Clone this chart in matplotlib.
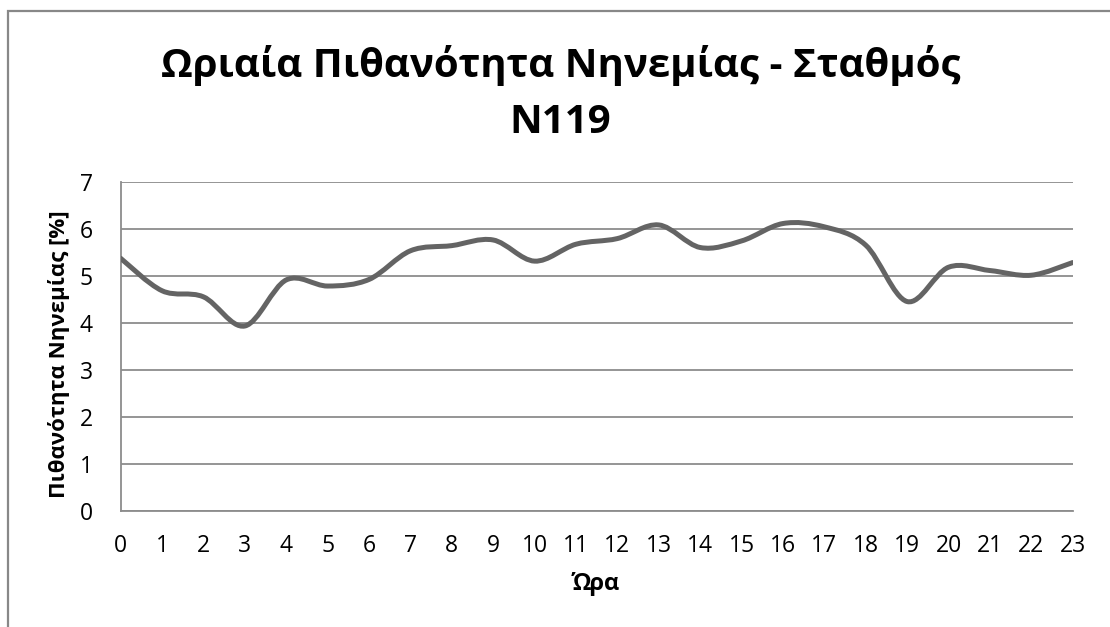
import matplotlib.pyplot as plt
from matplotlib.path import Path
from matplotlib.patches import PathPatch, Rectangle

plt.rcParams['font.family'] = ['Open Sans', 'DejaVu Sans']

hours = list(range(24))
prob = [5.37, 4.68, 4.55, 3.93, 4.91, 4.78, 4.92, 5.53, 5.64, 5.76, 5.31, 5.67,
        5.79, 6.08, 5.60, 5.74, 6.11, 6.04, 5.65, 4.45, 5.18, 5.11, 5.01, 5.28]
yticks = [0, 1, 2, 3, 4, 5, 6, 7]

title = 'Ωριαία Πιθανότητα Νηνεμίας - Σταθμός\nN119'
xlabel = 'Ώρα'
ylabel = 'Πιθανότητα Νηνεμίας [%]'

fig = plt.figure(figsize=(11.1, 6.27), dpi=100)
ax = fig.add_axes([0.1087, 0.1855, 0.8577, 0.5247])

# smoothed line like Excel (Catmull-Rom as cubic Bezier)
pts = list(zip(hours, prob))
verts = [pts[0]]
codes = [Path.MOVETO]
n = len(pts)
for i in range(n - 1):
    p0 = pts[max(i - 1, 0)]
    p1 = pts[i]
    p2 = pts[i + 1]
    p3 = pts[min(i + 2, n - 1)]
    c1 = (p1[0] + (p2[0] - p0[0]) / 6, p1[1] + (p2[1] - p0[1]) / 6)
    c2 = (p2[0] - (p3[0] - p1[0]) / 6, p2[1] - (p3[1] - p1[1]) / 6)
    verts += [c1, c2, p2]
    codes += [Path.CURVE4] * 3
ax.add_patch(PathPatch(Path(verts, codes), facecolor='none', edgecolor='#646464',
                       lw=3.6, capstyle='round', joinstyle='round', zorder=3))

ax.set_xlim(0, 23)
ax.set_ylim(0, 7)
ax.set_xticks(hours)
ax.set_yticks(yticks)
ax.tick_params(length=0, labelsize=16.5, colors='black')
ax.tick_params(axis='x', pad=17)
ax.tick_params(axis='y', pad=20)
ax.grid(axis='y', color='#8c8c8c', lw=1.3)
ax.set_axisbelow(True)
for s in ['top', 'right']:
    ax.spines[s].set_visible(False)
for s in ['left', 'bottom']:
    ax.spines[s].set_color('#8c8c8c')
    ax.spines[s].set_linewidth(1.3)

ax.set_xlabel(xlabel, fontsize=17, fontweight='bold')
ax.xaxis.set_label_coords(0.499, -0.185)
ax.set_ylabel(ylabel, fontsize=16, fontweight='bold')
ax.yaxis.set_label_coords(-0.053, 0.476)
fig.text(0.505, 0.851, title, ha='center', va='center', fontsize=29,
         fontweight='bold', linespacing=1.55)

fig.patches.append(Rectangle((8 / 1110, -0.1), 1.5, 1.1 - 10.5 / 627,
                             transform=fig.transFigure, fill=False,
                             edgecolor='#888888', lw=1.6))

fig.savefig('out.png', dpi=100)
